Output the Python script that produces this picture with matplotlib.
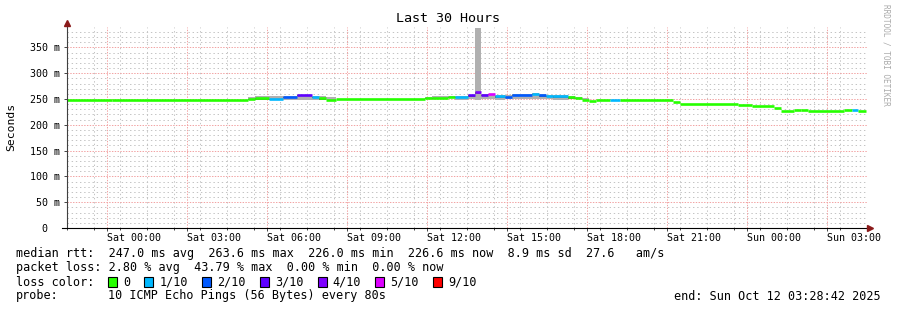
import numpy as np
import matplotlib
matplotlib.use('Agg')
import matplotlib.pyplot as plt
from matplotlib.patches import Rectangle

plt.rcParams['font.family'] = ['DejaVu Sans Mono']

# time axis: hours since Fri 22:30 (graph spans 30 h)
t_edges = [0.00, 1.69, 6.79, 7.05, 7.58, 8.10, 8.63, 9.19, 9.45, 9.71, 10.09,
           13.43, 13.69, 14.29, 14.55, 15.04, 15.30, 15.53, 15.79, 16.05, 16.43,
           16.69, 17.44, 17.70, 17.96, 18.23, 18.79, 19.05, 19.31, 19.58, 19.84,
           20.36, 20.74, 22.73, 22.99, 25.16, 25.69, 26.51, 26.78, 27.26, 27.53,
           27.79, 29.14, 29.44, 29.66, 29.96]
# median rtt (ms) for each step
median_ms = [248.0, 249.0, 250.5, 251.0, 250.5, 254.5, 258.0, 254.0, 252.0, 249.0,
             249.2, 251.0, 252.0, 253.0, 254.0, 257.0, 263.0, 258.0, 260.0, 255.0,
             254.0, 258.0, 260.0, 257.5, 256.0, 255.0, 253.0, 251.5, 249.0, 247.0,
             248.5, 248.5, 248.5, 244.0, 239.5, 238.5, 236.5, 233.5, 226.5, 229.5,
             228.0, 226.5, 228.5, 228.5, 226.5]
# smoke (ping spread) lower / upper bound
smoke_lo = [248.0, 249.0, 249.0, 249.0, 249.0, 249.0, 249.0, 249.0, 249.0, 249.0,
            249.2, 250.0, 250.0, 251.0, 249.0, 250.0, 249.0, 250.0, 250.0, 249.0,
            250.0, 250.0, 250.0, 250.0, 250.0, 249.0, 250.0, 250.0, 248.0, 247.0,
            248.5, 248.5, 248.5, 244.0, 239.5, 238.5, 236.5, 233.5, 226.5, 229.5,
            228.0, 226.5, 228.5, 228.5, 226.5]
smoke_hi = [248.0, 249.0, 254.0, 256.0, 256.0, 256.0, 258.0, 256.0, 256.0, 253.0,
            249.2, 254.0, 256.0, 256.0, 256.0, 258.0, 388.0, 260.0, 260.0, 257.0,
            257.0, 260.0, 261.0, 259.0, 258.0, 257.0, 256.0, 254.0, 251.0, 247.0,
            248.5, 248.5, 248.5, 244.0, 239.5, 238.5, 236.5, 233.5, 226.5, 229.5,
            228.0, 226.5, 228.5, 228.5, 226.5]
# loss level index per step
loss_idx = [0, 0, 0, 0, 1, 2, 3, 1, 0, 0,
            0, 0, 0, 0, 1, 3, 4, 3, 5, 1,
            2, 2, 1, 2, 1, 1, 0, 0, 0, 0,
            0, 1, 0, 0, 0, 0, 0, 0, 0, 0,
            0, 0, 0, 1, 0]

loss_labels = ['0', '1/10', '2/10', '3/10', '4/10', '5/10', '9/10']
loss_colors = ['#26ff00', '#00b8ff', '#0059ff', '#5e00ff', '#7e00ff', '#dd00ff', '#ff0000']

xtick_hours = [1.5, 4.5, 7.5, 10.5, 13.5, 16.5, 19.5, 22.5, 25.5, 28.5]
xtick_labels = ['Sat 00:00', 'Sat 03:00', 'Sat 06:00', 'Sat 09:00', 'Sat 12:00',
                'Sat 15:00', 'Sat 18:00', 'Sat 21:00', 'Sun 00:00', 'Sun 03:00']
ytick_vals = [0, 50, 100, 150, 200, 250, 300, 350]
ytick_labels = ['0  ', '50 m', '100 m', '150 m', '200 m', '250 m', '300 m', '350 m']

line1 = 'median rtt:  247.0 ms avg  263.6 ms max  226.0 ms min  226.6 ms now  8.9 ms sd  27.6   am/s'
line2 = 'packet loss: 2.80 % avg  43.79 % max  0.00 % min  0.00 % now'
probe_txt = '10 ICMP Echo Pings (56 Bytes) every 80s'
end_txt = 'end: Sun Oct 12 03:28:42 2025'

W, H = 897, 310
fig = plt.figure(figsize=(W / 100, H / 100), dpi=100)
fig.patch.set_facecolor('white')
ax_l, ax_r, ax_t, ax_b = 67, 867, 27.3, 228
ax = fig.add_axes([ax_l / W, 1 - ax_b / H, (ax_r - ax_l) / W, (ax_b - ax_t) / H])
ax.set_xlim(0, 30)
ax.set_ylim(0, 389)


def fx(px):  # pixel -> figure fraction
    return px / W


def fy(py):
    return 1 - py / H


t0 = np.array(t_edges[:-1])
t1 = np.array(t_edges[1:])
med = np.array(median_ms)
lo = np.array(smoke_lo)
hi = np.array(smoke_hi)

# grid, drawn by hand: minor 1px dots / 2px gaps, major 1px / 1px
minor_dots = (0, (1.39, 2.78))
major_dots = (0, (1.39, 1.39))
for h in np.arange(1, 30, 1):
    if (h - 1.5) % 3 != 0:
        ax.axvline(h, color='#c4c4c4', linewidth=0.72, linestyle=minor_dots, zorder=0, snap=True)
for v in np.arange(10, 390, 10):
    if v % 50:
        ax.axhline(v, color='#c4c4c4', linewidth=0.72, linestyle=minor_dots, zorder=0, snap=True)
for h in xtick_hours:
    ax.axvline(h, color='#f2a4a4', linewidth=0.72, linestyle=major_dots, zorder=1, snap=True)
for v in ytick_vals[1:]:
    ax.axhline(v, color='#f2a4a4', linewidth=0.72, linestyle=major_dots, zorder=1, snap=True)

# smoke
ax.bar(t0, hi - lo, width=t1 - t0, bottom=lo, align='edge', color='#b0b0b0',
       linewidth=0, zorder=3)
has_smoke = (hi - lo) > 0
dark_lo = np.maximum(lo, med - 3.0)
ax.bar(t0[has_smoke], (med - dark_lo)[has_smoke], width=(t1 - t0)[has_smoke],
       bottom=dark_lo[has_smoke], align='edge', color='#6a6a6a', linewidth=0, zorder=3)

# median coloured by loss
ax.hlines(med, t0, t1, colors=[loss_colors[i] for i in loss_idx], linewidth=1.9, zorder=4)

ax.set_xticks(xtick_hours)
ax.set_xticklabels(xtick_labels)
ax.set_xticks(np.arange(0, 31, 1), minor=True)
ax.set_yticks(ytick_vals)
ax.set_yticklabels(ytick_labels)

for s in ax.spines.values():
    s.set_visible(False)
ax.tick_params(axis='x', which='major', length=2.2, width=0.7, pad=1.5,
               labelsize=7.2, color='#444444')
ax.tick_params(axis='x', which='minor', length=1.5, width=0.7, color='#444444')
ax.tick_params(axis='y', which='major', length=2.2, width=0.7, pad=3,
               labelsize=7.2, color='#444444')
for lbl in ax.get_xticklabels():
    lbl.set_horizontalalignment('left')

# axis lines with arrows
ax_w, ax_h = ax_r - ax_l, ax_b - ax_t
ax.plot([0, 0], [0, (ax_b - 24) / ax_h], transform=ax.transAxes, color='#404040',
        linewidth=0.8, clip_on=False, zorder=5)
ax.plot([(62 - ax_l) / ax_w, (869 - ax_l) / ax_w], [0, 0], transform=ax.transAxes,
        color='black', linewidth=0.8, clip_on=False, zorder=5)
ax.plot([0], [(ax_b - 23) / ax_h], marker='^', markersize=4.2, color='#8b1a1a',
        transform=ax.transAxes, clip_on=False, zorder=6)
ax.plot([(870 - ax_l) / ax_w], [0], marker='>', markersize=4.2, color='#8b1a1a',
        transform=ax.transAxes, clip_on=False, zorder=6)

# titles
fig.text(fx(448), fy(19), 'Last 30 Hours', ha='center', va='center', fontsize=9.6)
fig.text(fx(11), fy(127), 'Seconds', ha='center', va='center', rotation=90, fontsize=8.2)
fig.text(fx(886), fy(4), 'RRDTOOL / TOBI OETIKER', ha='center', va='top', rotation=270,
         fontsize=5.6, color='#aaaaaa')

# legend block
fs = 8.5
fig.text(fx(16), fy(254), line1, ha='left', va='center', fontsize=fs)
fig.text(fx(16), fy(268), line2, ha='left', va='center', fontsize=fs)
fig.text(fx(16), fy(282), 'loss color:', ha='left', va='center', fontsize=fs)
fig.text(fx(16), fy(296), 'probe:', ha='left', va='center', fontsize=fs)
fig.text(fx(108), fy(296), probe_txt, ha='left', va='center', fontsize=fs)
fig.text(fx(881), fy(296), end_txt, ha='right', va='center', fontsize=fs)

char_w = 7.1
xpos = 108
for lab, col in zip(loss_labels, loss_colors):
    fig.patches.append(Rectangle((fx(xpos), fy(287)), 9 / W, 10 / H, facecolor=col,
                                 edgecolor='black', linewidth=0.8,
                                 transform=fig.transFigure, figure=fig))
    fig.text(fx(xpos + 15), fy(282), lab, ha='left', va='center', fontsize=fs)
    xpos += 15 + len(lab) * char_w + 14.3

fig.savefig('out.png', dpi=100)
